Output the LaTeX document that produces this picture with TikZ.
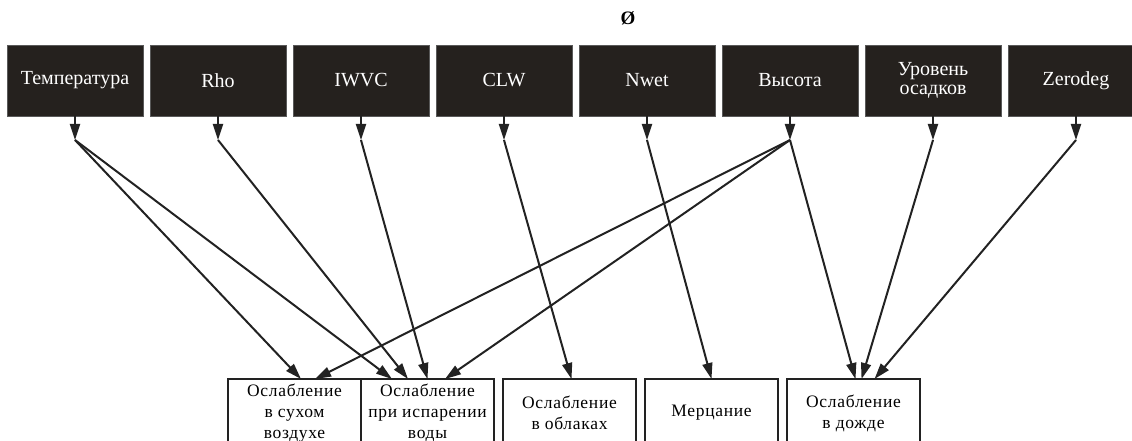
\documentclass[tikz,border=0pt]{standalone}
\usepackage{fontspec}
\setmainfont{Liberation Serif}
\newfontfamily\lowfont[LetterSpace=4]{Liberation Serif}
\usetikzlibrary{positioning}
\usetikzlibrary{arrows.meta}
\definecolor{boxdark}{HTML}{25211E}
\definecolor{inkline}{HTML}{222222}

\begin{document}
\begin{tikzpicture}[x=1pt, y=-1pt,
    src/.style={draw=black!65, line width=0.8pt, fill=boxdark, text=white, outer sep=0pt,
        minimum width=136pt, minimum height=71pt, inner sep=0pt, align=center,
        font=\fontsize{20}{19}\selectfont},
    dst/.style={draw=inkline, line width=2pt, fill=white, outer sep=0pt,
        minimum width=133pt, minimum height=68pt, inner sep=0pt, align=center,
        font=\lowfont\fontsize{17.5}{21}\selectfont},
    edge/.style={draw=inkline, line width=2pt, -{Triangle[length=16pt, width=10pt]}}]

    \clip (0,0) rectangle (1132,441);

    \node(mark) at (628,18) {\fontsize{19}{19}\selectfont\textbf{Ø}};

    \node(temp)[src] at (75,80.5) {Температура};
    \node(rho)[src, right=7pt of temp]{Rho};
    \node(iwvc)[src, right=7pt of rho]{IWVC};
    \node(clw)[src, right=7pt of iwvc]{CLW};
    \node(nwet)[src, right=7pt of clw]{Nwet};
    \node(vys)[src, right=7pt of nwet]{Высота};
    \node(urov)[src, right=7pt of vys]{Уровень\\осадков};
    \node(zero)[src, right=7pt of urov]{Zerodeg};

    \coordinate(jtemp) at ([yshift=-24pt]temp.south);
    \coordinate(jrho) at ([yshift=-24pt]rho.south);
    \coordinate(jiwvc) at ([yshift=-24pt]iwvc.south);
    \coordinate(jclw) at ([yshift=-24pt]clw.south);
    \coordinate(jnwet) at ([yshift=-24pt]nwet.south);
    \coordinate(jvys) at ([yshift=-24pt]vys.south);
    \coordinate(jurov) at ([yshift=-24pt]urov.south);
    \coordinate(jzero) at ([yshift=-24pt]zero.south);

    \node(dry)[dst] at (294.5,413) {Ослабление\\в сухом\\воздухе};
    \node(water)[dst, right=0pt of dry]{Ослабление\\при испарении\\воды};
    \node(cloud)[dst, right=9pt of water]{Ослабление\\в облаках};
    \node(flick)[dst, right=9pt of cloud]{Мерцание};
    \node(rain)[dst, right=9pt of flick]{Ослабление\\в дожде};

    \draw[edge] (temp) -- (jtemp);
    \draw[edge] (rho) -- (jrho);
    \draw[edge] (iwvc) -- (jiwvc);
    \draw[edge] (clw) -- (jclw);
    \draw[edge] (nwet) -- (jnwet);
    \draw[edge] (vys) -- (jvys);
    \draw[edge] (urov) -- (jurov);
    \draw[edge] (zero) -- (jzero);

    \draw[edge] (jtemp) -- ([xshift=6.5pt]dry.north);
    \draw[edge] (jtemp) -- ([xshift=-35.5pt]water.north);
    \draw[edge] (jrho) -- ([xshift=-19.5pt]water.north);
    \draw[edge] (jiwvc) -- (water.north);
    \draw[edge] (jvys) -- ([xshift=20.5pt]dry.north);
    \draw[edge] (jvys) -- ([xshift=17.5pt]water.north);
    \draw[edge] (jclw) -- ([xshift=2pt]cloud.north);
    \draw[edge] (jnwet) -- (flick.north);
    \draw[edge] (jvys) -- ([xshift=2pt]rain.north);
    \draw[edge] (jurov) -- ([xshift=8pt]rain.north);
    \draw[edge] (jzero) -- ([xshift=21pt]rain.north);

\end{tikzpicture}
\end{document}
